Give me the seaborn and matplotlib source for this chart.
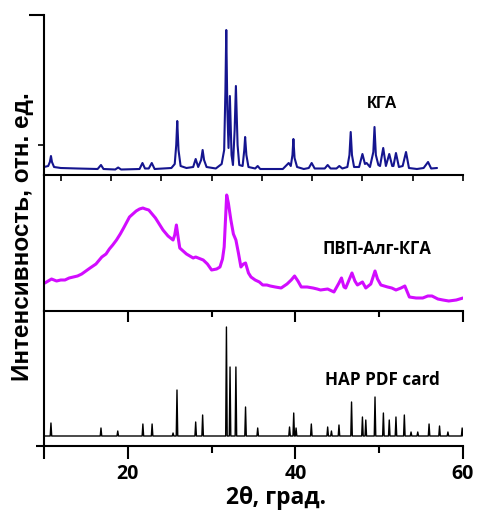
import numpy as np
import pandas as pd
import matplotlib
matplotlib.use("Agg")
import matplotlib.pyplot as plt
import seaborn as sns

# --- measured pattern of КГА (2θ, intensity above baseline) ---
kga_2theta = [10.0, 10.5, 10.7, 10.83, 10.95, 11.2, 12.0, 14.0, 16.4, 16.8, 17.1, 18.5,
              18.85, 19.2, 21.4, 21.75, 22.05, 22.5, 22.86, 23.2, 25.2, 25.6, 25.78,
              25.9, 26.05, 26.3, 27.0, 27.8, 28.1, 28.4, 28.75, 28.93, 29.1, 29.4,
              30.5, 31.2, 31.5, 31.65, 31.75, 31.88, 32.02, 32.18, 32.38, 32.55, 32.75,
              32.9, 33.1, 33.3, 33.7, 33.9, 34.0, 34.15, 34.4, 35.2, 35.5, 35.8, 38.5,
              39.2, 39.45, 39.65, 39.76, 39.9, 40.2, 41.0, 41.6, 41.94, 42.3, 43.5,
              43.85, 44.2, 44.9, 45.24, 45.6, 46.2, 46.45, 46.6, 46.75, 47.0, 47.6,
              48.0, 48.3, 48.5, 48.9, 49.3, 49.44, 49.6, 49.9, 50.1, 50.48, 50.8,
              51.2, 51.55, 51.7, 52.0, 52.35, 52.8, 53.2, 53.55, 54.5, 55.3, 55.83,
              56.2, 56.9]
kga_intensity = [3, 4, 8, 14, 8, 3, 2, 1.5, 1, 5, 1, 0.5,
                 2.5, 0.5, 1, 7, 1.5, 1.5, 7, 1, 2, 6, 25,
                 49, 20, 4, 2, 3, 11, 3, 10, 20, 10, 3,
                 1.5, 6, 20, 80, 140, 60, 22, 74, 15, 5, 40,
                 84, 25, 5, 4, 20, 33, 15, 3, 1.5, 4, 1, 1,
                 7, 4, 15, 31, 12, 3, 1, 2, 7, 1.5, 1.5,
                 5, 1.5, 1.5, 4, 1.5, 3, 15, 38, 15, 3, 3,
                 16, 6, 7, 3, 18, 43, 15, 5, 4, 22, 4,
                 16, 4, 4, 17, 3, 4, 18, 2, 1, 2, 8,
                 1.5, 2]

# --- measured pattern of ПВП-Алг-КГА composite ---
comp_2theta = [10.1, 10.5, 10.9, 11.5, 12.0, 12.5, 13.0, 13.5, 14.0, 14.5, 15.0, 15.5,
               16.2, 16.9, 17.4, 17.8, 18.2, 18.65, 19.1, 19.5, 20.2, 20.6, 21.0, 21.4,
               21.8, 22.1, 22.5, 23.0, 23.3, 23.6, 24.2, 24.8, 25.4, 25.6, 25.8, 26.0,
               26.2, 26.6, 27.0, 27.4, 27.8, 28.1, 28.4, 28.7, 29.0, 29.5, 30.0, 30.6,
               31.0, 31.3, 31.5, 31.8, 32.0, 32.3, 32.6, 32.9, 33.2, 33.5, 33.8, 34.05,
               34.4, 34.7, 35.2, 35.7, 36.1, 36.6, 37.0, 37.6, 38.3, 39.0, 39.5, 39.9,
               40.3, 40.7, 41.4, 42.1, 42.6, 43.0, 43.85, 44.6, 45.2, 45.5, 45.8, 46.0,
               46.4, 46.75, 47.1, 47.4, 48.0, 48.4, 49.0, 49.5, 49.8, 50.2, 51.0, 51.5,
               52.0, 52.6, 53.06, 53.6, 54.4, 55.2, 55.8, 56.3, 57.0, 57.6, 58.3, 59.2,
               60.0]
comp_intensity = [28, 30, 32, 30, 31, 31, 33, 34, 35, 37, 40, 43,
                  47, 54, 57, 62, 66, 71, 77, 83, 94, 97, 100, 102,
                  103, 102, 101, 96, 93, 89, 81, 75, 71, 76, 86, 74,
                  63, 60, 57, 55, 53, 54, 53, 52, 51, 47, 41, 42,
                  44, 52, 64, 116, 108, 91, 77, 71, 58, 44, 47, 48,
                  38, 34, 31, 29, 26, 26, 25, 24, 23, 27, 31, 35,
                  30, 24, 24, 23, 22, 21, 22, 19, 28, 33, 24, 23,
                  31, 38, 30, 26, 29, 23, 27, 40, 32, 26, 24, 23,
                  21, 23, 25, 14, 13, 13, 15, 15, 12, 11, 10, 11,
                  13]

# --- reference lines of hydroxyapatite (PDF card) ---
hap_2theta = [10.83, 16.8, 18.8, 21.8, 22.9, 25.4, 25.87, 28.1, 28.93, 31.77, 32.2,
              32.9, 34.05, 35.5, 39.3, 39.8, 40.08, 41.9, 43.85, 44.3, 45.2, 46.7,
              48.0, 48.4, 49.5, 50.5, 51.2, 52.0, 53.0, 53.8, 54.6, 55.95, 57.2,
              58.2, 59.9]
hap_intensity = [13, 8, 5, 12, 12, 3, 46, 14, 21, 109, 69,
                 69, 29, 8, 9, 23, 8, 12, 9, 5, 11, 34,
                 19, 16, 39, 23, 16, 19, 21, 4, 4, 12, 10,
                 4, 8]

panel_labels = ["КГА", "ПВП-Алг-КГА", "HAP PDF card"]
x_ticks_labeled = [20, 40, 60]

sns.set_theme(style="ticks")
plt.rcParams["font.family"] = ["Open Sans", "DejaVu Sans"]
plt.rcParams["axes.linewidth"] = 1.5
for key in ("text.color", "axes.labelcolor", "xtick.color", "ytick.color",
            "axes.edgecolor", "xtick.labelcolor", "ytick.labelcolor"):
    plt.rcParams[key] = "black"

W, H = 479, 512
fig = plt.figure(figsize=(W / 100, H / 100), dpi=100)

def frac(x0, y0, x1, y1):
    return [x0 / W, 1 - y1 / H, (x1 - x0) / W, (y1 - y0) / H]

ax_top = fig.add_axes(frac(44, 15, 463, 175))
ax_mid = fig.add_axes(frac(44, 175, 463, 311))
ax_bot = fig.add_axes(frac(44, 311, 463, 446))

# stick pattern: each reference line is a narrow spike on a flat baseline
half = 0.09
stick_x, stick_y = [10.0], [0.0]
for p, h in zip(hap_2theta, hap_intensity):
    stick_x += [p - half, p, p + half]
    stick_y += [0.0, h, 0.0]
stick_x.append(60.0)
stick_y.append(0.0)

df_kga = pd.DataFrame({"two_theta": kga_2theta, "I": kga_intensity})
df_comp = pd.DataFrame({"two_theta": comp_2theta, "I": comp_intensity})
df_hap = pd.DataFrame({"two_theta": stick_x, "I": stick_y})

sns.lineplot(data=df_kga, x="two_theta", y="I", ax=ax_top, color="#15158f",
             lw=1.5, estimator=None, sort=False)
sns.lineplot(data=df_comp, x="two_theta", y="I", ax=ax_mid, color="#d20cff",
             lw=2.2, estimator=None, sort=False)
sns.lineplot(data=df_hap, x="two_theta", y="I", ax=ax_bot, color="black",
             lw=1.0, estimator=None, sort=False)

ax_top.set_ylim(-5, 155)
ax_mid.set_ylim(0, 136)
ax_bot.set_ylim(-10, 125)

for ax in (ax_top, ax_mid, ax_bot):
    ax.set_xlim(10, 60)
    ax.set_xlabel("")
    ax.set_ylabel("")
    for side in ("top", "right"):
        ax.spines[side].set_visible(False)
    ax.spines["left"].set_linewidth(1.5)
    ax.spines["bottom"].set_linewidth(1.5)
    ax.patch.set_alpha(0)

# top panel axis marks
ax_top.set_xticks(np.arange(12, 61, 6))
ax_top.tick_params(axis="x", length=4, width=1.2, labelbottom=False)
ax_top.set_yticks([155])
ax_top.set_yticks([25], minor=True)
ax_top.tick_params(axis="y", which="major", length=11, width=1.5, labelleft=False)
ax_top.tick_params(axis="y", which="minor", length=4, width=1.2)

# middle panel axis marks
ax_mid.set_xticks([20, 40, 60])
ax_mid.set_xticks([30, 50], minor=True)
ax_mid.tick_params(axis="x", which="major", length=8, width=1.5, labelbottom=False)
ax_mid.tick_params(axis="x", which="minor", length=4, width=1.5)
ax_mid.set_yticks([])

# bottom panel axis marks
ax_bot.set_xticks([10] + x_ticks_labeled)
ax_bot.set_xticklabels([""] + [str(v) for v in x_ticks_labeled])
ax_bot.set_xticks([30, 50], minor=True)
ax_bot.tick_params(axis="x", which="major", length=9, width=1.5, pad=4,
                   labelsize=14)
ax_bot.tick_params(axis="x", which="minor", length=5, width=1.5)
for lab in ax_bot.get_xticklabels():
    lab.set_fontweight("bold")
ax_bot.set_yticks([-10])
ax_bot.tick_params(axis="y", length=6, width=1.5, labelleft=False)

# panel captions
ax_top.text(50.36, 66, panel_labels[0], ha="center", va="center",
            fontsize=12, fontweight="bold", family="Liberation Sans")
ax_mid.text(49.76, 62, panel_labels[1], ha="center", va="center",
            fontsize=12, fontweight="bold")
ax_bot.text(50.36, 56, panel_labels[2], ha="center", va="center",
            fontsize=12.3, fontweight="bold")

fig.text(276 / W, 1 - 504.5 / H, "2θ, град.", ha="center", va="baseline",
         fontsize=16.5, fontweight="bold")
fig.text(23 / W, 1 - 237 / H, "Интенсивность, отн. ед.", ha="center",
         va="center", rotation=90, fontsize=17.5, fontweight="bold",
         family="Liberation Sans")

fig.savefig("out.png", dpi=100)
